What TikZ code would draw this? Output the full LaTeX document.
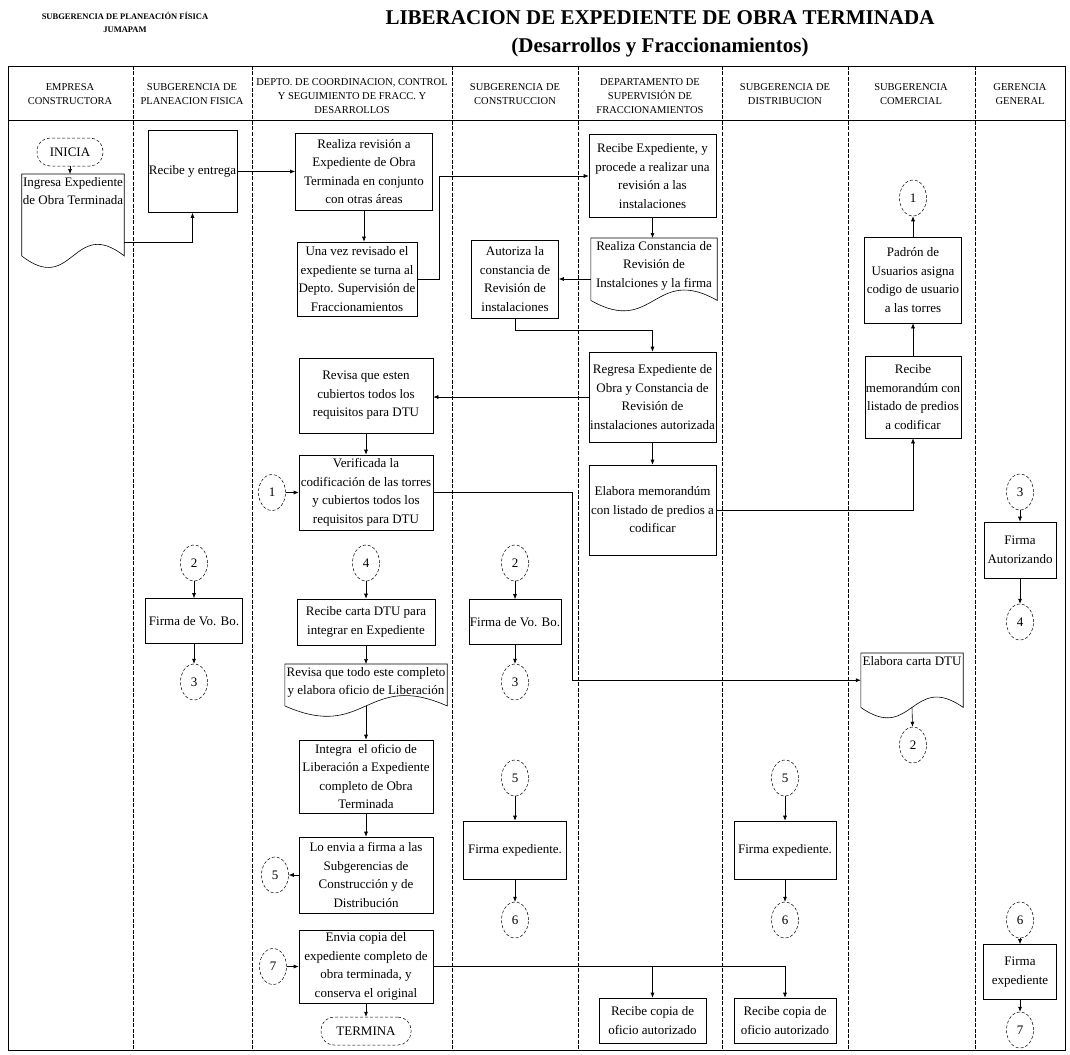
\documentclass[tikz,border=0pt]{standalone}
\usepackage{fontspec}
\setmainfont{Liberation Serif}
\usetikzlibrary{arrows.meta, shapes.geometric, calc}
\newcommand{\boxfont}{\fontsize{13}{18.5}\selectfont}
\newcommand{\lanefont}{\fontsize{10.5}{14}\selectfont}
\newcommand{\docwave}[2]{%
  \draw[ln] (#1.south west) -- (#1.north west) -- (#1.north east) -- (#1.south east)
    .. controls ($(#1.south)+(0,-#2)$) and ($(#1.south)+(0,#2)$) .. (#1.south west);}

\begin{document}
\begin{tikzpicture}[
    x=1pt, y=-1pt,
    ln/.style={line width=0.6pt},
    box/.style={draw, ln, align=center, font=\boxfont, inner sep=1pt},
    doc/.style={align=center, font=\boxfont, inner xsep=1pt, inner ysep=3pt, anchor=north},
    conn/.style={draw, densely dashed, line width=0.5pt, ellipse, minimum width=27pt, minimum height=36pt, inner sep=0pt, font=\boxfont},
    term/.style={draw, densely dashed, line width=0.5pt, rounded corners=13pt, minimum width=66pt, minimum height=28pt, inner sep=1pt, font=\boxfont},
    lanehead/.style={align=center, font=\lanefont},
    lanesep/.style={line width=0.5pt, dash pattern=on 4pt off 1.5pt},
    arr/.style={ln, -{Latex[length=5pt, width=4pt]}}
]
\useasboundingbox (0,0) rectangle (1070,1054);

\node[font=\bfseries\fontsize{8.5}{13}\selectfont, align=center] (org) at (125,22) {SUBGERENCIA DE PLANEACIÓN FÍSICA\\JUMAPAM};
\node[font=\bfseries\fontsize{21}{25}\selectfont] (title) at (660,18) {LIBERACION DE EXPEDIENTE DE OBRA TERMINADA};
\node[font=\bfseries\fontsize{21}{25}\selectfont] (subtitle) at (660,47) {(Desarrollos y Fraccionamientos)};

\draw[ln] (8,66) rectangle (1065,1050);
\draw[ln] (8,120) -- (1065,120);
\draw[lanesep] (133,66) -- (133,1050) (252,66) -- (252,1050) (452,66) -- (452,1050) (578,66) -- (578,1050)
  (722,66) -- (722,1050) (848,66) -- (848,1050) (975,66) -- (975,1050);

\node[lanehead] (h1) at (70,94) {EMPRESA\\CONSTRUCTORA};
\node[lanehead] (h2) at (192,94) {SUBGERENCIA DE\\PLANEACION FISICA};
\node[lanehead] (h3) at (352,96) {DEPTO. DE COORDINACION, CONTROL\\Y SEGUIMIENTO DE FRACC. Y\\DESARROLLOS};
\node[lanehead] (h4) at (515,94) {SUBGERENCIA DE\\CONSTRUCCION};
\node[lanehead] (h5) at (650,96) {DEPARTAMENTO DE\\SUPERVISIÓN DE\\FRACCIONAMIENTOS};
\node[lanehead] (h6) at (785,94) {SUBGERENCIA DE\\DISTRIBUCION};
\node[lanehead] (h7) at (911,94) {SUBGERENCIA\\COMERCIAL};
\node[lanehead] (h8) at (1020,94) {GERENCIA\\GENERAL};

\node[term] (inicia) at (70,152) {INICIA};
\node[doc, minimum width=102pt, text depth=48pt] (ingresa) at (73,174) {Ingresa Expediente\\de Obra Terminada};

\node[box, minimum width=89pt, minimum height=82pt] (recibe) at (192.5,171.5) {Recibe y entrega};
\node[conn] (c2a) at (194,563) {2};
\node[box, minimum width=97pt, minimum height=45pt] (vobo1) at (194,621) {Firma de Vo. Bo.};
\node[conn] (c3a) at (194,682) {3};

\node[box, minimum width=137pt, minimum height=77pt] (realiza) at (364,171.5) {Realiza revisión a\\Expediente de Obra\\Terminada en conjunto\\con otras áreas};
\node[box, minimum width=120pt, minimum height=74pt] (unavez) at (357,279) {Una vez revisado el\\expediente se turna al\\Depto. Supervisión de\\Fraccionamientos};
\node[box, minimum width=134pt, minimum height=75pt] (revisa) at (366,395.5) {Revisa que esten\\cubiertos todos los\\requisitos para DTU};
\node[conn] (c1a) at (272,492.5) {1};
\node[box, minimum width=134pt, minimum height=75pt] (verif) at (366,492.5) {Verificada la\\codificación de las torres\\y cubiertos todos los\\requisitos para DTU};
\node[conn] (c4a) at (366,563) {4};
\node[box, minimum width=138pt, minimum height=46pt] (carta) at (366,622) {Recibe carta DTU para\\integrar en Expediente};
\node[doc, minimum width=162pt, text depth=8pt] (todo) at (366,664) {Revisa que todo este completo\\y elabora oficio de Liberación};
\node[box, minimum width=134pt, minimum height=73pt] (integra) at (366,776.5) {Integra\ \ el oficio de\\Liberación a Expediente\\completo de Obra\\Terminada};
\node[box, minimum width=134pt, minimum height=76pt] (envia) at (366,875) {Lo envia a firma a las\\Subgerencias de\\Construcción y de\\Distribución};
\node[conn] (c5a) at (275,875) {5};
\node[box, minimum width=134pt, minimum height=73pt] (copia) at (366,966.5) {Envia copia del\\expediente completo de\\obra terminada, y\\conserva el original};
\node[conn] (c7a) at (273,966.5) {7};
\node[term, minimum width=90pt] (termina) at (366,1031) {TERMINA};

\node[box, minimum width=87pt, minimum height=78pt] (autoriza) at (515,279) {Autoriza la\\constancia de\\Revisión de\\instalaciones};
\node[conn] (c2b) at (515,563) {2};
\node[box, minimum width=83pt, minimum height=45pt] (vobo2) at (515,622) {Firma de Vo. Bo.};
\node[conn] (c3b) at (515,682) {3};
\node[conn] (c5b) at (515,778) {5};
\node[box, minimum width=103pt, minimum height=58pt] (firma1) at (515,850) {Firma expediente.};
\node[conn] (c6a) at (515,920) {6};

\node[box, minimum width=127pt, minimum height=83pt] (recexp) at (652.5,176) {Recibe Expediente, y\\procede a realizar una\\revisión a las\\instalaciones};
\node[doc, minimum width=126pt, text depth=10pt] (constancia) at (654,238) {Realiza Constancia de\\Revisión de\\Instalciones y la firma};
\node[box, minimum width=127pt, minimum height=90pt] (regresa) at (652.5,397) {Regresa Expediente de\\Obra y Constancia de\\Revisión de\\instalaciones autorizada};
\node[box, minimum width=127pt, minimum height=90pt] (memo) at (652.5,510) {Elabora memorandúm\\con listado de predios a\\codificar};
\node[box, minimum width=107pt, minimum height=45pt] (copia1) at (652.5,1020.5) {Recibe copia de\\oficio autorizado};

\node[conn] (c5c) at (785,778) {5};
\node[box, minimum width=102pt, minimum height=58pt] (firma2) at (785,850) {Firma expediente.};
\node[conn] (c6b) at (785,920) {6};
\node[box, minimum width=102pt, minimum height=45pt] (copia2) at (785,1020.5) {Recibe copia de\\oficio autorizado};

\node[conn] (c1b) at (913,198) {1};
\node[box, minimum width=97pt, minimum height=86pt] (padron) at (913,280) {Padrón de\\Usuarios asigna\\codigo de usuario\\a las torres};
\node[box, minimum width=95pt, minimum height=82pt] (recmemo) at (913,397) {Recibe\\memorandúm con\\listado de predios\\a codificar};
\node[doc, minimum width=102pt, text depth=39pt] (dtu) at (912,653) {Elabora carta DTU};
\node[conn] (c2c) at (913,745) {2};

\node[conn] (c3c) at (1020,492) {3};
\node[box, minimum width=72pt, minimum height=56pt] (autorizando) at (1020,550) {Firma\\Autorizando};
\node[conn] (c4b) at (1020,622) {4};
\node[conn] (c6c) at (1020,920) {6};
\node[box, minimum width=73pt, minimum height=55pt] (firma3) at (1020,972) {Firma\\expediente};
\node[conn] (c7b) at (1020,1030) {7};

\docwave{ingresa}{40}
\docwave{constancia}{36}
\docwave{todo}{36}
\docwave{dtu}{36}

\draw[arr] (inicia.south) -- (inicia.south |- ingresa.north);
\draw[arr] ($(ingresa.south east)+(0,-14)$) -| (recibe.south);
\draw[arr] (recibe.east) -- (realiza.west);
\draw[arr] (realiza.south) -- (realiza.south |- unavez.north);
\draw[arr] (unavez.east) -- ++(22,0) |- (recexp.west);
\draw[arr] (recexp.south) -- (recexp.south |- constancia.north);
\draw[arr] (constancia.west |- autoriza.east) -- (autoriza.east);
\draw[arr] (autoriza.south) -- ++(0,12) -| (regresa.north);
\draw[arr] (regresa.west) -- (regresa.west -| revisa.east);
\draw[arr] (regresa) -- (memo);
\draw[arr] (revisa) -- (verif);
\draw[arr] (memo.east) -| (recmemo.south);
\draw[arr] (recmemo) -- (padron);
\draw[arr] (padron) -- (c1b);
\draw[arr] (c1a) -- (verif);
\draw[arr] (verif.east) -- ++(139,0) |- (dtu.west);
\draw[arr] (dtu.south) -- (c2c);

\draw[arr] (c2a) -- (vobo1);
\draw[arr] (vobo1) -- (c3a);
\draw[arr] (c4a) -- (carta);
\draw[arr] (carta) -- (todo);
\draw[arr] (todo.south) -- (integra);
\draw[arr] (integra) -- (envia);
\draw[arr] (envia) -- (c5a);
\draw[arr] (c7a) -- (copia);
\draw[arr] (copia) -- (termina);
\draw[arr] (copia.east) -| (copia2.north);
\draw[arr] (copia.east -| copia1.north) -- (copia1.north);

\draw[arr] (c2b) -- (vobo2);
\draw[arr] (vobo2) -- (c3b);
\draw[arr] (c5b) -- (firma1);
\draw[arr] (firma1) -- (c6a);
\draw[arr] (c5c) -- (firma2);
\draw[arr] (firma2) -- (c6b);
\draw[arr] (c3c) -- (autorizando);
\draw[arr] (autorizando) -- (c4b);
\draw[arr] (c6c) -- (firma3);
\draw[arr] (firma3) -- (c7b);
\end{tikzpicture}
\end{document}
